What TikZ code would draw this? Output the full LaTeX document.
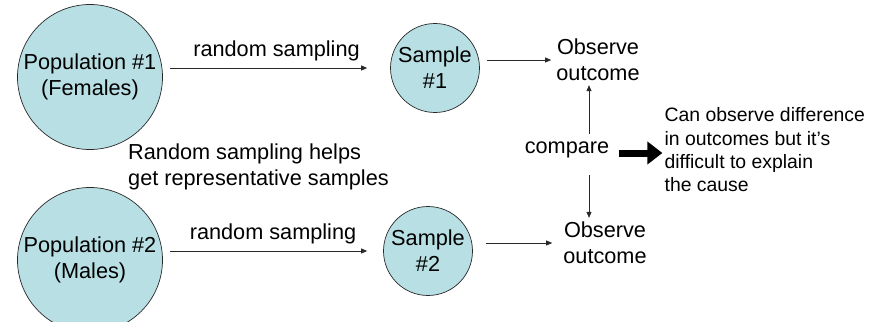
\documentclass[tikz,border=0pt]{standalone}
\usepackage{fontspec}
\setmainfont{Liberation Sans}
\usetikzlibrary{arrows.meta, positioning}
\definecolor{popTeal}{RGB}{184,223,227}
\definecolor{lineGray}{RGB}{40,40,40}

\begin{document}
\begin{tikzpicture}[x=1pt, y=-1pt,
pop/.style={circle, draw=lineGray, fill=popTeal, line width=0.7pt,
inner sep=0pt, minimum size=145pt, align=center,
font=\fontsize{21.7}{26}\selectfont},
samp/.style={pop, minimum size=89pt},
txt/.style={inner sep=0pt, align=center, font=\fontsize{21.7}{26}\selectfont},
note/.style={inner sep=0pt, align=left, font=\fontsize{19.4}{23.3}\selectfont},
arrow/.style={-{Triangle[length=6pt, width=5pt]}, line width=0.7pt, draw=lineGray},
bigarrow/.style={-{Triangle[length=15pt, width=22pt]}, line width=7pt}]
\useasboundingbox (0,0) rectangle (888,321);
\node[pop] (pop1) at (90,77) {Population \#1\\(Females)};
\node[pop] (pop2) at (90,260) {Population \#2\\(Males)};
\node[samp] (samp1) at (435,68) {Sample\\\#1};
\node[samp] (samp2) at (428,251) {Sample\\\#2};
\node[txt] (obs1) at (598,60) {Observe\\outcome};
\node[txt] (obs2) at (605,243) {Observe\\outcome};
\node[txt] (compare) at (567,150) {compare};
\node[note, right=55pt of compare] (cause)
    {Can observe difference\\in outcomes but it’s\\difficult to explain\\the cause};
\node[txt, align=left, anchor=west] (helps) at (128,167)
    {Random sampling helps\\get representative samples};
\draw[arrow, shorten <=7pt, shorten >=23pt] (pop1.east |- samp1.west) -- (samp1.west)
    node[midway, above=7pt, txt, text=black] {random sampling};
\draw[arrow, shorten <=7pt, shorten >=16pt] (pop2.east |- samp2.west) -- (samp2.west)
    node[midway, above=7pt, txt, text=black] {random sampling};
\draw[arrow, shorten <=7pt, shorten >=5pt] (samp1.east |- obs1.west) -- (obs1.west);
\draw[arrow, shorten <=13pt, shorten >=11pt] (samp2.east |- obs2.west) -- (obs2.west);
\draw[arrow, shorten <=8pt, shorten >=4pt] ([xshift=22pt]compare.north)
    -- ([xshift=22pt]compare.north |- obs1.south);
\draw[arrow, shorten <=17pt, shorten >=4pt] ([xshift=22pt]compare.south)
    -- ([xshift=22pt]compare.south |- obs2.north);
\draw[bigarrow, shorten <=10pt, shorten >=2pt] ([yshift=-3pt]compare.east)
    -- ([yshift=-3pt]compare.east -| cause.west);
\end{tikzpicture}
\end{document}
